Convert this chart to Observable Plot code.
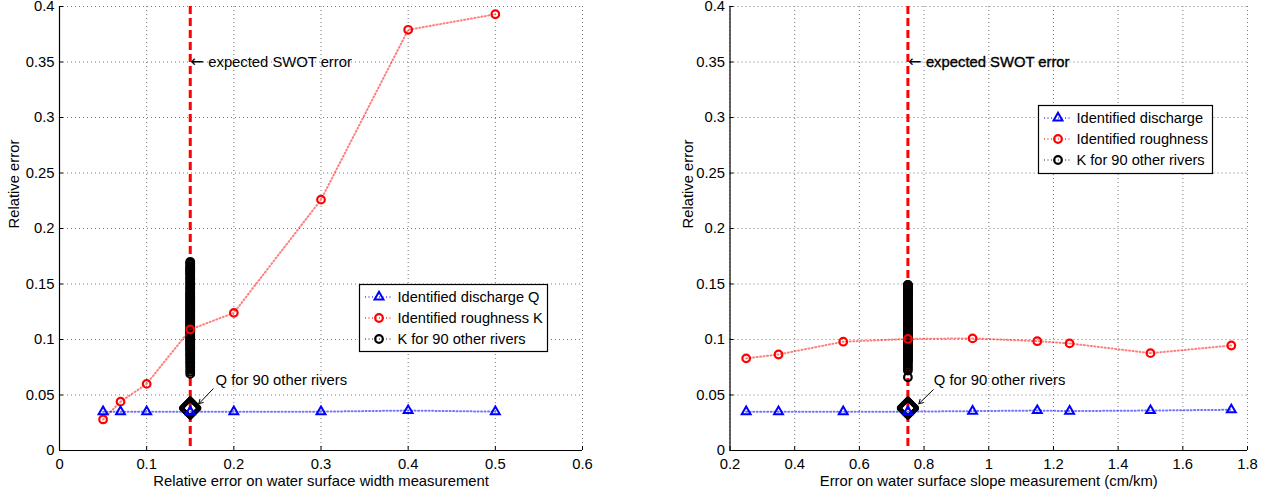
<!DOCTYPE html>
<html><head><meta charset="utf-8">
<script src="https://cdn.jsdelivr.net/npm/d3@7"></script>
<script src="https://cdn.jsdelivr.net/npm/@observablehq/plot@0.6"></script>
<style>
html,body{margin:0;padding:0;background:#fff;}
#wrap{position:relative;width:1287px;height:494px;font-family:"Liberation Sans",Arial,Helvetica,sans-serif;}
#wrap svg{position:absolute;top:0;overflow:visible;}
</style></head><body><div id="wrap"></div>
<script>
// ---------- data: left panel (width error) ----------
const widthErr = [0.05, 0.07, 0.1, 0.15, 0.2, 0.3, 0.4, 0.5];
const widthQ   = [0.035, 0.035, 0.035, 0.035, 0.035, 0.035, 0.036, 0.035];
const widthK   = [0.028, 0.044, 0.060, 0.109, 0.124, 0.226, 0.379, 0.393];
const widthSwot = 0.15;
const widthK90 = [0.069,0.071,0.073,0.075,0.077,0.079,0.080,0.082,0.083,0.085,
  0.086,0.087,0.088,0.090,0.091,0.092,0.093,0.094,0.095,0.096,
  0.097,0.098,0.099,0.100,0.101,0.102,0.103,0.104,0.105,0.106,
  0.107,0.108,0.108,0.109,0.110,0.111,0.112,0.113,0.114,0.115,
  0.116,0.117,0.118,0.119,0.120,0.121,0.122,0.123,0.124,0.125,
  0.126,0.127,0.128,0.129,0.130,0.131,0.132,0.133,0.134,0.135,
  0.136,0.137,0.138,0.139,0.140,0.141,0.142,0.143,0.145,0.146,
  0.147,0.148,0.150,0.151,0.152,0.154,0.155,0.156,0.158,0.159,
  0.160,0.161,0.162,0.163,0.164,0.165,0.166,0.168,0.169,0.170];
const widthQ90 = [0.0374,0.0376,0.0378,0.0380,0.0382,0.0384,0.0386,0.0388,0.0390];
const widthXTicks = [0, 0.1, 0.2, 0.3, 0.4, 0.5, 0.6];

// ---------- data: right panel (slope error) ----------
const slopeErr = [0.25, 0.35, 0.55, 0.75, 0.95, 1.15, 1.25, 1.5, 1.75];
const slopeQ   = [0.035, 0.035, 0.035, 0.035, 0.0355, 0.036, 0.0355, 0.036, 0.0367];
const slopeK   = [0.083, 0.0865, 0.098, 0.1005, 0.101, 0.0985, 0.0965, 0.0877, 0.0946];
const slopeSwot = 0.75;
const slopeK90 = [0.066,0.072,0.074,0.076,0.078,0.080,0.081,0.082,0.083,0.084,
  0.085,0.086,0.087,0.088,0.089,0.090,0.091,0.092,0.093,0.094,
  0.095,0.096,0.097,0.098,0.099,0.100,0.101,0.102,0.103,0.104,
  0.104,0.105,0.106,0.107,0.108,0.109,0.110,0.111,0.112,0.113,
  0.114,0.115,0.116,0.117,0.118,0.119,0.120,0.121,0.122,0.123,
  0.124,0.125,0.126,0.127,0.128,0.129,0.130,0.131,0.132,0.133,
  0.134,0.135,0.136,0.137,0.138,0.139,0.140,0.141,0.142,0.143,
  0.143,0.144,0.144,0.145,0.145,0.146,0.146,0.146,0.147,0.147,
  0.147,0.148,0.148,0.148,0.148,0.149,0.149,0.149,0.149,0.149];
const slopeQ90 = [0.0374,0.0376,0.0378,0.0380,0.0382,0.0384,0.0386,0.0388,0.0390];
const slopeXTicks = [0.2, 0.4, 0.6, 0.8, 1, 1.2, 1.4, 1.6, 1.8];

// ---------- shared ----------
const yTicks = [0, 0.05, 0.1, 0.15, 0.2, 0.25, 0.3, 0.35, 0.4];
const yLabel = "Relative error";
const swotArrow = "\u2190";
const swotLabel = "expected SWOT error";
const swotLabelY = 0.35;
const qLabel = "Q for 90 other rivers";

const panels = [
  {left: 0, width: 640, marginLeft: 59, marginRight: 58, xDomain: [0, 0.6], xTicks: widthXTicks,
   err: widthErr, q: widthQ, k: widthK, swot: widthSwot, k90: widthK90, q90: widthQ90,
   xLabel: "Relative error on water surface width measurement", yLabelDx: -45,
   qText: {x: 0.179, y: 0.0636}, qArrow: {x1: 0.1763, y1: 0.0556, x2: 0.1598, y2: 0.0421},
   swotStroke: 0,
   legend: {x: 359, y: 284, w: 188, h: 67, labels: ["Identified discharge Q", "Identified roughness K", "K for 90 other rivers"]}},
  {left: 640, width: 647, marginLeft: 89.5, marginRight: 40, xDomain: [0.2, 1.8], xTicks: slopeXTicks,
   err: slopeErr, q: slopeQ, k: slopeK, swot: slopeSwot, k90: slopeK90, q90: slopeQ90,
   xLabel: "Error on water surface slope measurement (cm/km)", yLabelDx: -41.5,
   qText: {x: 0.83, y: 0.0636}, qArrow: {x1: 0.8283, y1: 0.0547, x2: 0.7838, y2: 0.0421},
   swotStroke: 0.35,
   legend: {x: 1038, y: 105, w: 174, h: 68, labels: ["Identified discharge", "Identified roughness", "K for 90 other rivers"]}}
];

const FONT = '"Liberation Sans", Arial, Helvetica, sans-serif';
const FS = 14.8;
const wrap = document.getElementById("wrap");
const gridStyle = {stroke: "#7a7a7a", strokeOpacity: 1, strokeDasharray: "1,3", strokeWidth: 1};

for (const p of panels) {
  const rows = p.err.map((e, i) => ({e, q: p.q[i], k: p.k[i]}));
  const chart = Plot.plot({
    width: p.width, height: 494,
    marginLeft: p.marginLeft, marginRight: p.marginRight, marginTop: 6, marginBottom: 44,
    style: {fontFamily: FONT, fontSize: FS + "px", background: "transparent", overflow: "visible"},
    x: {domain: p.xDomain},
    y: {domain: [0, 0.4]},
    marks: [
      Plot.gridX(p.xTicks, gridStyle),
      Plot.gridY(yTicks, gridStyle),
      Plot.ruleX([p.swot], {stroke: "#ff0000", strokeWidth: 3, strokeDasharray: "8,4"}),
      Plot.dot(p.k90, {x: () => p.swot, y: d => d, r: 3.8, stroke: "black", strokeWidth: 2.2, fill: "none"}),
      Plot.dot(p.q90, {x: () => p.swot, y: d => d, symbol: "diamond2", r: 8.2, stroke: "black", strokeWidth: 3.6, strokeLinejoin: "round", fill: "none"}),
      Plot.line(rows, {x: "e", y: "k", stroke: "#ff0000", strokeWidth: 2, strokeDasharray: "1,2.5", strokeOpacity: 0.5}),
      Plot.dot(rows, {x: "e", y: "k", r: 3.8, stroke: "#ff0000", strokeWidth: 2.2, fill: "none"}),
      Plot.line(rows, {x: "e", y: "q", stroke: "#0000ff", strokeWidth: 2, strokeDasharray: "1,2.5", strokeOpacity: 0.55}),
      Plot.dot(rows, {x: "e", y: "q", symbol: "triangle", r: 3.3, stroke: "#0000ff", strokeWidth: 2, fill: "none"}),
      Plot.ruleY([0], {stroke: "black", strokeWidth: 1.2}),
      Plot.ruleX([p.xDomain[0]], {stroke: "black", strokeWidth: 1.2}),
      Plot.axisX(p.xTicks, {tickSize: -4, tickPadding: 12, tickFormat: d => String(d), label: null, fontSize: FS}),
      Plot.axisY(yTicks, {tickSize: -4, tickPadding: 9, tickFormat: d => String(d), label: null, fontSize: FS}),
      Plot.text([p.xLabel], {text: d => d, frameAnchor: "bottom", dy: 31, lineAnchor: "middle", fontSize: FS}),
      Plot.text([yLabel], {text: d => d, frameAnchor: "left", dx: p.yLabelDx, rotate: -90, lineAnchor: "middle", fontSize: FS}),
      Plot.text([swotArrow], {text: d => d, x: () => p.swot, y: () => swotLabelY, textAnchor: "start", dx: 0, fontSize: 16,
        fontFamily: "DejaVu Sans", fill: "black"}),
      Plot.text([swotLabel], {text: d => d, x: () => p.swot, y: () => swotLabelY, textAnchor: "start", dx: 18, fontSize: FS,
        fill: "black", stroke: p.swotStroke ? "black" : "none", strokeWidth: p.swotStroke}),
      Plot.arrow([p.qArrow], {x1: "x1", y1: "y1", x2: "x2", y2: "y2", stroke: "black", strokeWidth: 1, headLength: 7}),
      Plot.text([p.qText], {x: "x", y: "y", text: () => qLabel, textAnchor: "start", fontSize: FS})
    ]
  });
  chart.style.left = p.left + "px";
  wrap.appendChild(chart);
}

// ---------- legends (overlay) ----------
const over = d3.select(wrap).append("svg")
  .attr("width", 1287).attr("height", 494)
  .style("left", "0px").style("pointer-events", "none")
  .attr("font-family", FONT).attr("font-size", 14.6);
const entries = [
  {color: "#0000ff", symbol: d3.symbolTriangle, size: Math.PI * 3.3 * 3.3, sw: 2},
  {color: "#ff0000", symbol: d3.symbolCircle, size: Math.PI * 3.8 * 3.8, sw: 2.2},
  {color: "#000000", symbol: d3.symbolCircle, size: Math.PI * 3.8 * 3.8, sw: 2.2}
];
for (const p of panels) {
  const L = p.legend;
  const g = over.append("g").attr("transform", `translate(${L.x},${L.y})`);
  g.append("rect").attr("x", 0.5).attr("y", 0.5).attr("width", L.w).attr("height", L.h)
    .attr("fill", "white").attr("stroke", "black").attr("stroke-width", 1.2);
  L.labels.forEach((lab, i) => {
    const cy = 13 + i * 21;
    const e = entries[i];
    g.append("line").attr("x1", 6).attr("x2", 32).attr("y1", cy).attr("y2", cy)
      .attr("stroke", e.color).attr("stroke-width", 2).attr("stroke-dasharray", "1,2.5")
      .attr("stroke-opacity", i === 2 ? 0.45 : 0.55);
    g.append("path").attr("d", d3.symbol(e.symbol, e.size)())
      .attr("transform", `translate(20,${cy})`)
      .attr("fill", "none").attr("stroke", e.color).attr("stroke-width", e.sw);
    g.append("text").attr("x", 38.5).attr("y", cy).attr("dy", "0.35em").text(lab);
  });
}
</script></body></html>
